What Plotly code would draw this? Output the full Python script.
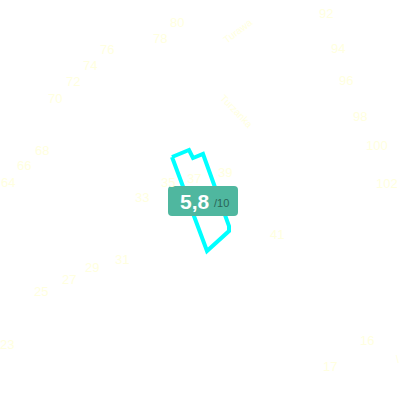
import plotly.graph_objects as go

# Plot outline
plot_x = [172, 189, 193, 203, 229, 229, 207, 172]
plot_y = [157, 150, 158, 154, 226, 231, 251, 157]

# District numbers
labels = ["80", "78", "76", "74", "72", "70", "68", "66", "64", "35", "37", "33", "39",
          "92", "94", "96", "98", "100", "102", "31", "29", "27", "25", "23", "41", "16", "17"]
label_x = [177, 160, 107, 90, 73, 55, 42, 24, 8, 168, 194, 142, 225,
           326, 338, 346, 360, 377, 387, 122, 92, 69, 41, 7, 277, 367, 330]
label_y = [22, 38, 49, 65, 81, 98, 150, 165, 182, 182, 178, 197, 172,
           13, 48, 80, 116, 145, 183, 259, 267, 279, 291, 344, 234, 340, 366]

# Street names
street_names = ["Turawa", "Turzanka", "\\"]
street_x = [237, 237, 397]
street_y = [31, 111, 359]
street_angle = [-37, 46, 0]

fig = go.Figure()

fig.add_trace(go.Scatter(
    x=plot_x,
    y=plot_y,
    mode="lines",
    line=dict(color="#00ffff", width=4),
    hoverinfo="skip",
))

for text, x, y in zip(labels, label_x, label_y):
    fig.add_annotation(x=x, y=y, text=text, showarrow=False,
                       font=dict(family="Liberation Sans", size=13, color="#ffffe0"))

for text, x, y, angle in zip(street_names, street_x, street_y, street_angle):
    fig.add_annotation(x=x, y=y, text=text, textangle=angle, showarrow=False,
                       font=dict(family="Liberation Sans", size=10, color="#ffffe0"))

# Score badge with rounded corners
fig.add_shape(
    type="path",
    path="M 172 186 L 234 186 Q 238 186 238 190 L 238 212 Q 238 216 234 216 "
         "L 172 216 Q 168 216 168 212 L 168 190 Q 168 186 172 186 Z",
    line_width=0,
    fillcolor="#4fb79f",
    layer="above",
)
fig.add_annotation(x=195, y=201, text="5,8", showarrow=False,
                   font=dict(family="Liberation Sans", size=21, color="white", weight="bold"))
fig.add_annotation(x=221, y=203, text="/10", showarrow=False,
                   font=dict(family="Liberation Sans", size=11, color="#2a6456"))

fig.update_xaxes(range=[0, 400], visible=False)
fig.update_yaxes(range=[400, 0], visible=False)

fig.update_layout(
    width=400,
    height=400,
    margin=dict(l=0, r=0, t=0, b=0),
    paper_bgcolor="white",
    plot_bgcolor="white",
    showlegend=False,
)

fig.write_html(
    "out.html",
    config=dict(displayModeBar=False),
    post_script="document.body.style.margin = '0';",
)
